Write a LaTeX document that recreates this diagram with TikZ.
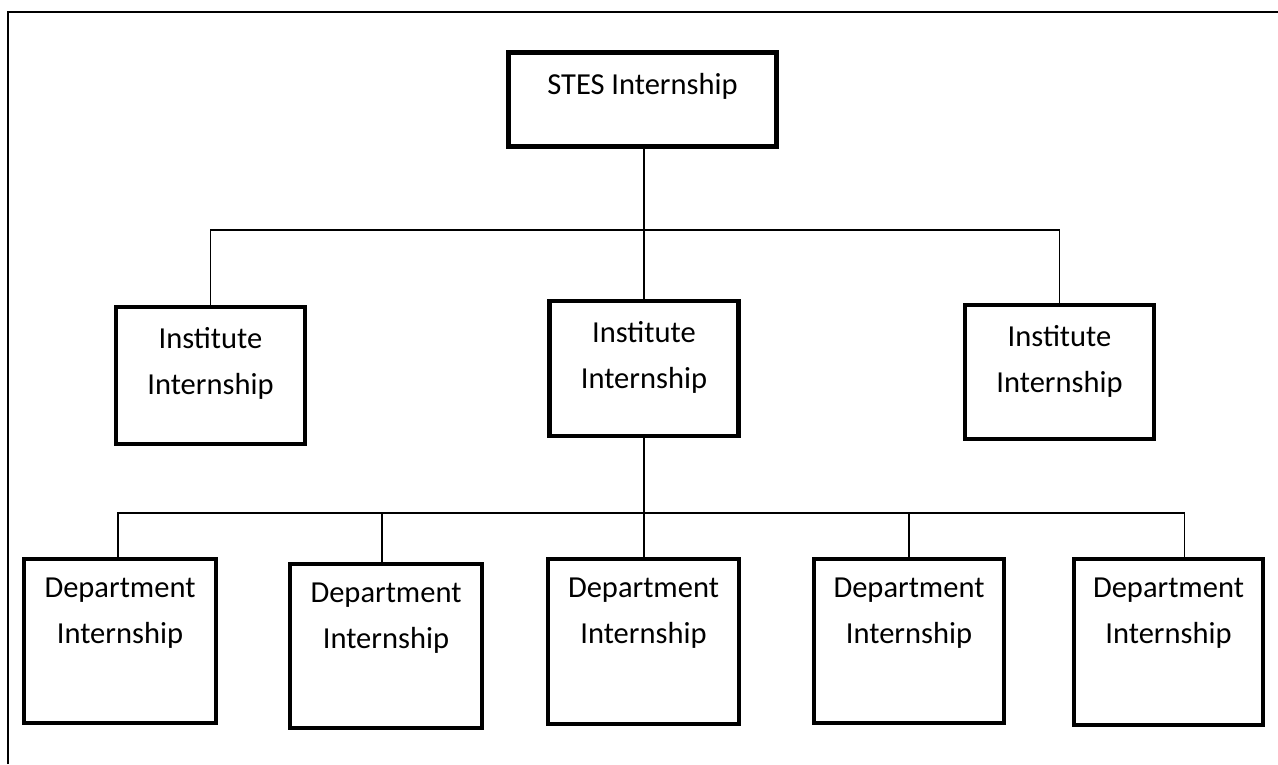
\documentclass[tikz,border=0pt]{standalone}
\usepackage{fontspec}
\setmainfont{Carlito}
\usetikzlibrary{positioning}
\begin{document}
\begin{tikzpicture}[x=1pt,y=-1pt,
    box/.style={draw,line width=4.5pt,minimum width=#1,inner sep=0pt},
    boxtext/.style={inner sep=0pt,align=center,font=\fontsize{30.5}{46}\selectfont},
    link/.style={line width=1.3pt}]
    \useasboundingbox (0,0) rectangle (1278,764);
    \draw[line width=2pt] (8,764) -- (8,12) -- (1278,12);
    \node[box=268pt,minimum height=94pt] (stes) at (642.5,99.5) {};
    \node[boxtext,below=23pt of stes.north] (stest) {STES Internship};
    \node[box=189pt,minimum height=137pt] (inst1) at (210.5,375.5) {};
    \node[box=189pt,minimum height=135pt] (inst2) at (644,368.5) {};
    \node[box=189pt,minimum height=134pt] (inst3) at (1059.5,372) {};
    \node[boxtext,below=22pt of inst1.north] (inst1t) {Institute\\Internship};
    \node[boxtext,below=22pt of inst2.north] (inst2t) {Institute\\Internship};
    \node[boxtext,below=22pt of inst3.north] (inst3t) {Institute\\Internship};
    \node[box=192pt,minimum height=164pt] (dept1) at (120,641) {};
    \node[box=192pt,minimum height=164pt] (dept2) at (386,646) {};
    \node[box=191pt,minimum height=165pt] (dept3) at (643.5,641.5) {};
    \node[box=190pt,minimum height=164pt] (dept4) at (909,641) {};
    \node[box=189pt,minimum height=166pt] (dept5) at (1168.5,642) {};
    \foreach \i in {1,...,5}
        \node[boxtext,below=21pt of dept\i.north] (dept\i t) {Department\\Internship};
    \coordinate (top) at (644,230);
    \coordinate (mid) at (644,513);
    \draw[link] (stes.south -| top) -- (top);
    \draw[link] (inst1.north) |- (top) -| (inst3.north);
    \draw[link] (top) -- (inst2.north);
    \draw[link] (inst2.south) -- (mid);
    \draw[link] ([xshift=-2pt]dept1.north) |- (mid) -| ([xshift=16pt]dept5.north);
    \draw[link] (mid) -- (mid |- dept3.north);
    \draw[link] ([xshift=-4pt]dept2.north) -- ([xshift=-4pt]dept2.north |- mid);
    \draw[link] (dept4.north) -- (dept4.north |- mid);
\end{tikzpicture}
\end{document}
